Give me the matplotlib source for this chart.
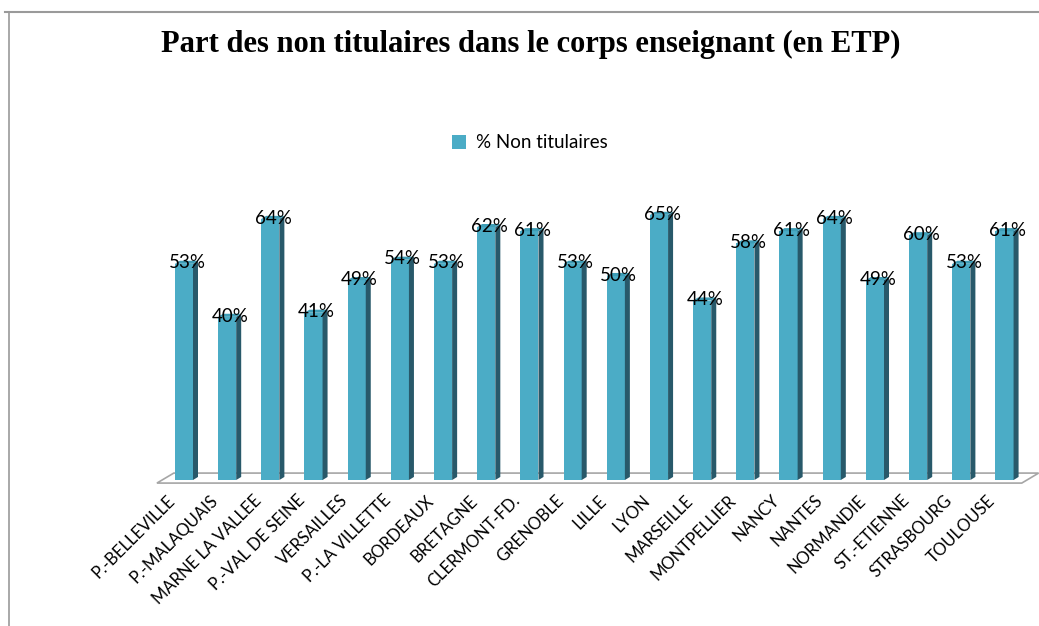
import matplotlib.pyplot as plt
from matplotlib.patches import Polygon
from matplotlib.lines import Line2D

# données
titre = "Part des non titulaires dans le corps enseignant (en ETP)"
serie = "% Non titulaires"
ecoles = ["P.-BELLEVILLE", "P.-MALAQUAIS", "MARNE LA VALLEE", "P.-VAL DE SEINE",
          "VERSAILLES", "P.-LA VILLETTE", "BORDEAUX", "BRETAGNE", "CLERMONT-FD.",
          "GRENOBLE", "LILLE", "LYON", "MARSEILLE", "MONTPELLIER", "NANCY",
          "NANTES", "NORMANDIE", "ST.-ETIENNE", "STRASBOURG", "TOULOUSE"]
valeurs = [53, 40, 64, 41, 49, 54, 53, 62, 61, 53, 50, 65, 44, 58, 61, 64, 49, 60, 53, 61]

face = '#4BACC6'
cote = '#28596A'
dessus = '#3E9DB6'
sol = '#A6A6A6'

fig = plt.figure(figsize=(10.39, 6.26), dpi=100)
ax = fig.add_axes([0.150, 0.2332, 0.8355, 0.4562])
ax.set_xlim(-0.65, 19.45)
ax.set_ylim(0, 70)
ax.axis('off')

x = list(range(len(ecoles)))
bars = ax.bar(x, valeurs, width=0.42, color=face, label=serie, zorder=3)

# plancher en perspective
x0, x1 = -0.625, 19.4
fdx, fdy = 0.39, 2.45
ax.add_patch(Polygon([(x0, -0.75), (x1, -0.75), (x1 + fdx, -0.75 + fdy), (x0 + fdx, -0.75 + fdy)],
                     closed=True, facecolor='white', edgecolor=sol, lw=1.2, zorder=1, clip_on=False))

# faces latérales et dessus des barres
dx, dy = 0.116, 0.75
for b in bars:
    bx0 = b.get_x()
    bx1 = bx0 + b.get_width()
    h = b.get_height()
    ax.add_patch(Polygon([(bx1, 0), (bx1 + dx, dy), (bx1 + dx, h + dy), (bx1, h)],
                         closed=True, facecolor=cote, edgecolor='none', zorder=3, clip_on=False))
    ax.add_patch(Polygon([(bx0, h), (bx1, h), (bx1 + dx, h + dy), (bx0 + dx, h + dy)],
                         closed=True, facecolor=dessus, edgecolor='none', zorder=3, clip_on=False))
    ax.text(bx0 + b.get_width() / 2 + 0.07, h + 0.2, "{:.0f}%".format(h),
            ha='center', va='center', fontsize=13.5, family='Lato', color='black',
            zorder=5, clip_on=False)

for i, nom in enumerate(ecoles):
    ax.text(i - 0.4, -3.0, nom, rotation=45, rotation_mode='anchor',
            ha='right', va='top', fontsize=12, family='Lato', clip_on=False)

fig.text(0.511, 1 - 44 / 626, titre, ha='center', va='center', fontsize=22,
         family='Liberation Serif', fontweight='bold')

fig.legend(handles=[bars], labels=[serie], loc='center', bbox_to_anchor=(0.51, 1 - 143 / 626),
           frameon=False, handlelength=0.75, handleheight=0.75, handletextpad=0.5,
           prop={'family': 'Lato', 'size': 13.5})

# cadre du graphique
fig.add_artist(Line2D([5 / 1039, 1], [1 - 12 / 626, 1 - 12 / 626], color='#9A9A9A', lw=1.5))
fig.add_artist(Line2D([9 / 1039, 9 / 1039], [0, 1 - 12 / 626], color='#9A9A9A', lw=1.2))

fig.savefig('out.png', dpi=100)
